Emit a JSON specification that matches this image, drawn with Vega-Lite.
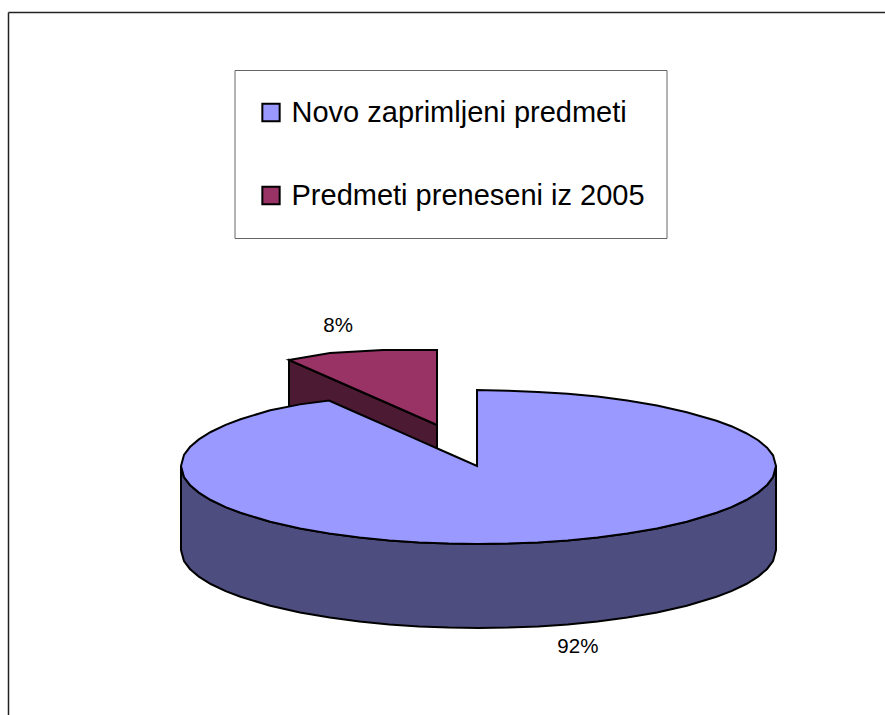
{
"$schema":"https://vega.github.io/schema/vega-lite/v6.json",
"width":877,"height":703,
"padding":{"left":8,"top":12,"right":0,"bottom":0},
"autosize":{"type":"none"},
"background":"white",
"config":{"view":{"stroke":null},"font":"Liberation Sans"},
"datasets":{
"shares":[
{"slice":"Novo zaprimljeni predmeti","share":0.92,"u":0.334,"v":-2.32},
{"slice":"Predmeti preneseni iz 2005","share":0.08,"u":-0.472,"v":1.795}
],
"redWall":[{"u":-0.637,"v":1.359,"v2":0.282},{"u":-0.1395,"v":0.526,"v2":-0.551}],
"redFace":[
{"slice":"Predmeti preneseni iz 2005","u":-0.637,"v":1.359,"v2":1.359},
{"slice":"Predmeti preneseni iz 2005","u":-0.499,"v":1.449,"v2":1.128},
{"slice":"Predmeti preneseni iz 2005","u":-0.321,"v":1.487,"v2":0.83},
{"slice":"Predmeti preneseni iz 2005","u":-0.1395,"v":1.487,"v2":0.526}
],
"blueWall":[
{"u":-1,"v":0,"v2":-1.077},{"u":-0.99,"v":-0.141,"v2":-1.218},{"u":-0.97,"v":-0.243,"v2":-1.32},{"u":-0.94,"v":-0.341,"v2":-1.418},{"u":-0.9,"v":-0.436,"v2":-1.513},{"u":-0.85,"v":-0.527,"v2":-1.604},{"u":-0.8,"v":-0.6,"v2":-1.677},{"u":-0.7,"v":-0.714,"v2":-1.791},{"u":-0.6,"v":-0.8,"v2":-1.877},{"u":-0.5,"v":-0.866,"v2":-1.943},{"u":-0.4,"v":-0.917,"v2":-1.994},{"u":-0.3,"v":-0.954,"v2":-2.031},{"u":-0.2,"v":-0.98,"v2":-2.057},{"u":-0.1,"v":-0.995,"v2":-2.072},{"u":0,"v":-1,"v2":-2.077},{"u":0.1,"v":-0.995,"v2":-2.072},{"u":0.2,"v":-0.98,"v2":-2.057},{"u":0.3,"v":-0.954,"v2":-2.031},{"u":0.4,"v":-0.917,"v2":-1.994},{"u":0.5,"v":-0.866,"v2":-1.943},{"u":0.6,"v":-0.8,"v2":-1.877},{"u":0.7,"v":-0.714,"v2":-1.791},{"u":0.8,"v":-0.6,"v2":-1.677},{"u":0.85,"v":-0.527,"v2":-1.604},{"u":0.9,"v":-0.436,"v2":-1.513},{"u":0.94,"v":-0.341,"v2":-1.418},{"u":0.97,"v":-0.243,"v2":-1.32},{"u":0.99,"v":-0.141,"v2":-1.218},{"u":1,"v":0,"v2":-1.077}
],
"blueFace":[
{"slice":"Novo zaprimljeni predmeti","u":-1,"v":0,"v2":0},
{"slice":"Novo zaprimljeni predmeti","u":-0.99,"v":0.141,"v2":-0.141},
{"slice":"Novo zaprimljeni predmeti","u":-0.97,"v":0.243,"v2":-0.243},
{"slice":"Novo zaprimljeni predmeti","u":-0.94,"v":0.341,"v2":-0.341},
{"slice":"Novo zaprimljeni predmeti","u":-0.9,"v":0.436,"v2":-0.436},
{"slice":"Novo zaprimljeni predmeti","u":-0.85,"v":0.527,"v2":-0.527},
{"slice":"Novo zaprimljeni predmeti","u":-0.8,"v":0.6,"v2":-0.6},
{"slice":"Novo zaprimljeni predmeti","u":-0.7,"v":0.714,"v2":-0.714},
{"slice":"Novo zaprimljeni predmeti","u":-0.6,"v":0.79,"v2":-0.8},
{"slice":"Novo zaprimljeni predmeti","u":-0.5025,"v":0.84,"v2":-0.865},
{"slice":"Novo zaprimljeni predmeti","u":-0.4,"v":0.667,"v2":-0.917},
{"slice":"Novo zaprimljeni predmeti","u":-0.3,"v":0.498,"v2":-0.954},
{"slice":"Novo zaprimljeni predmeti","u":-0.2,"v":0.329,"v2":-0.98},
{"slice":"Novo zaprimljeni predmeti","u":-0.1,"v":0.16,"v2":-0.995},
{"slice":"Novo zaprimljeni predmeti","u":-0.005,"v":0,"v2":-1},
{"slice":"Novo zaprimljeni predmeti","u":-0.005,"v":0.975,"v2":-1},
{"slice":"Novo zaprimljeni predmeti","u":0.1,"v":0.965,"v2":-0.995},
{"slice":"Novo zaprimljeni predmeti","u":0.2,"v":0.95,"v2":-0.98},
{"slice":"Novo zaprimljeni predmeti","u":0.3,"v":0.925,"v2":-0.954},
{"slice":"Novo zaprimljeni predmeti","u":0.4,"v":0.89,"v2":-0.917},
{"slice":"Novo zaprimljeni predmeti","u":0.5,"v":0.84,"v2":-0.866},
{"slice":"Novo zaprimljeni predmeti","u":0.6,"v":0.776,"v2":-0.8},
{"slice":"Novo zaprimljeni predmeti","u":0.7,"v":0.69,"v2":-0.714},
{"slice":"Novo zaprimljeni predmeti","u":0.8,"v":0.58,"v2":-0.6},
{"slice":"Novo zaprimljeni predmeti","u":0.85,"v":0.51,"v2":-0.527},
{"slice":"Novo zaprimljeni predmeti","u":0.9,"v":0.42,"v2":-0.436},
{"slice":"Novo zaprimljeni predmeti","u":0.94,"v":0.33,"v2":-0.341},
{"slice":"Novo zaprimljeni predmeti","u":0.97,"v":0.235,"v2":-0.243},
{"slice":"Novo zaprimljeni predmeti","u":0.99,"v":0.137,"v2":-0.141},
{"slice":"Novo zaprimljeni predmeti","u":1,"v":0,"v2":0}
]
},
"encoding":{
"x":{"field":"u","type":"quantitative","scale":{"domain":[-1.5815,1.3664],"nice":false,"zero":false},
"axis":{"orient":"top","title":null,"labels":false,"ticks":false,"grid":false,"domain":true,"domainColor":"#222222","domainWidth":1.5}},
"y":{"field":"v","type":"quantitative","stack":null,"scale":{"domain":[-3.1923,5.8205],"nice":false,"zero":false},
"axis":{"orient":"left","title":null,"labels":false,"ticks":false,"grid":false,"domain":true,"domainColor":"#222222","domainWidth":1.5}}
},
"layer":[
{"data":{"name":"redWall"},"mark":{"type":"area","fill":"#4D1A33","stroke":"black","strokeWidth":2},"encoding":{"y2":{"field":"v2"}}},
{"data":{"name":"redFace"},"mark":{"type":"area","stroke":"black","strokeWidth":2},"encoding":{"y2":{"field":"v2"},"fill":{"field":"slice","type":"nominal","scale":{"domain":["Novo zaprimljeni predmeti","Predmeti preneseni iz 2005"],"range":["#9999FF","#993366"]},
"legend":{"title":null,"orient":"none","legendX":226.5,"legendY":58,"strokeColor":"#666666","fillColor":"white","padding":21,"symbolType":"square","symbolSize":300,"symbolStrokeColor":"black","symbolStrokeWidth":2,"symbolOffset":1,"labelFontSize":29,"labelFont":"Liberation Sans","labelColor":"black","labelOffset":6,"clipHeight":43,"rowPadding":40,"labelLimit":500}}}},
{"data":{"name":"blueWall"},"mark":{"type":"area","fill":"#4D4D80","stroke":"black","strokeWidth":2},"encoding":{"y2":{"field":"v2"}}},
{"data":{"name":"blueFace"},"mark":{"type":"area","stroke":"black","strokeWidth":2},"encoding":{"y2":{"field":"v2"},"fill":{"field":"slice","type":"nominal"}}},
{"data":{"name":"shares"},"mark":{"type":"text","fontSize":20.5,"font":"Liberation Sans","color":"black","baseline":"middle","align":"center"},"encoding":{"text":{"field":"share","type":"quantitative","format":".0%"}}}
]
}
